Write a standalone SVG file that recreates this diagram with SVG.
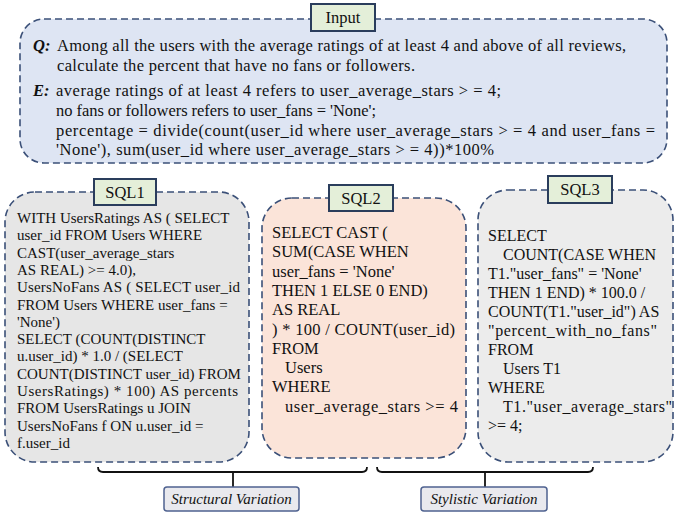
<svg xmlns="http://www.w3.org/2000/svg" width="675" height="514" viewBox="0 0 675 514">
<style>
.box{stroke:#3b5078;stroke-width:1.6;stroke-dasharray:7 4}
.tag{fill:#e4efd9;stroke:#2a3d5c;stroke-width:2}
.t{font-family:'Liberation Serif','DejaVu Serif',serif;fill:#111}
.in{font-size:16.5px}
.s1{font-size:15px}
.s2{font-size:16.5px}
.s3{font-size:16px}
.lab{font-size:16.5px;text-anchor:middle}
.var{fill:#e9e9ee;stroke:#4f6290;stroke-width:1.5}
.vt{font-size:15px;font-style:italic;text-anchor:middle}
.br{fill:none;stroke:#111;stroke-width:1.8}
</style>
<rect width="675" height="514" fill="#ffffff"/>

<g id="input">
<rect class="box" x="20" y="19" width="647" height="144" rx="24" fill="#dee5f3"/>
<rect class="tag" x="311" y="4" width="64" height="27"/>
<text class="t lab" x="343" y="23" font-size="17">Input</text>
<text class="t in" x="33" y="51" font-weight="bold" font-style="italic">Q:</text>
<text class="t in" x="57" y="51" textLength="569">Among all the users with the average ratings of at least 4 and above of all reviews,</text>
<text class="t in" x="57" y="71" textLength="358">calculate the percent that have no fans or followers.</text>
<text class="t in" x="33" y="96" font-weight="bold" font-style="italic">E:</text>
<text class="t in" x="56" y="96" textLength="445">average ratings of at least 4 refers to user_average_stars &gt; = 4;</text>
<text class="t in" x="56" y="116" textLength="320">no fans or followers refers to user_fans = 'None';</text>
<text class="t in" x="56" y="136" textLength="599">percentage = divide(count(user_id where user_average_stars &gt; = 4 and user_fans =</text>
<text class="t in" x="56" y="155" textLength="438">'None'), sum(user_id where user_average_stars &gt; = 4))*100%</text>
</g>

<g id="sql1">
<rect class="box" x="5" y="192" width="244" height="270" rx="30" fill="#e6e6e6"/>
<rect class="tag" x="94" y="179" width="62" height="26"/>
<text class="t lab" x="125" y="198">SQL1</text>
<text class="t s1" x="17" y="223">WITH UsersRatings AS ( SELECT</text>
<text class="t s1" x="17" y="240.3">user_id FROM Users WHERE</text>
<text class="t s1" x="17" y="257.6">CAST(user_average_stars</text>
<text class="t s1" x="17" y="274.9">AS REAL) &gt;= 4.0),</text>
<text class="t s1" x="17" y="292.2" textLength="223">UsersNoFans AS ( SELECT user_id</text>
<text class="t s1" x="17" y="309.5">FROM Users WHERE user_fans =</text>
<text class="t s1" x="17" y="326.8">'None')</text>
<text class="t s1" x="17" y="344.1">SELECT (COUNT(DISTINCT</text>
<text class="t s1" x="17" y="361.4">u.user_id) * 1.0 / (SELECT</text>
<text class="t s1" x="17" y="378.7">COUNT(DISTINCT user_id) FROM</text>
<text class="t s1" x="17" y="396" textLength="221">UsersRatings) * 100) AS percents</text>
<text class="t s1" x="17" y="413.3">FROM UsersRatings u JOIN</text>
<text class="t s1" x="17" y="430.6">UsersNoFans f ON u.user_id =</text>
<text class="t s1" x="17" y="447.9">f.user_id</text>
</g>

<g id="sql2">
<rect class="box" x="262" y="198" width="204" height="260" rx="30" fill="#fbe4d9"/>
<rect class="tag" x="329" y="185" width="64" height="26"/>
<text class="t lab" x="361" y="204">SQL2</text>
<text class="t s2" x="272" y="238">SELECT CAST (</text>
<text class="t s2" x="272" y="257.3">SUM(CASE WHEN</text>
<text class="t s2" x="272" y="276.6">user_fans = 'None'</text>
<text class="t s2" x="272" y="295.9">THEN 1 ELSE 0 END)</text>
<text class="t s2" x="272" y="315.2">AS REAL</text>
<text class="t s2" x="272" y="334.5" textLength="183">) * 100 / COUNT(user_id)</text>
<text class="t s2" x="272" y="353.8">FROM</text>
<text class="t s2" x="285" y="373.1">Users</text>
<text class="t s2" x="272" y="392.4">WHERE</text>
<text class="t s2" x="285" y="411.7" textLength="173">user_average_stars &gt;= 4</text>
</g>

<g id="sql3">
<rect class="box" x="478" y="190" width="195" height="272" rx="30" fill="#ececec"/>
<rect class="tag" x="548" y="176" width="64" height="27"/>
<text class="t lab" x="580" y="195">SQL3</text>
<text class="t s3" x="488" y="241">SELECT</text>
<text class="t s3" x="503" y="260">COUNT(CASE WHEN</text>
<text class="t s3" x="488" y="279">T1."user_fans" = 'None'</text>
<text class="t s3" x="488" y="298">THEN 1 END) * 100.0 /</text>
<text class="t s3" x="488" y="317">COUNT(T1."user_id") AS</text>
<text class="t s3" x="488" y="336" textLength="169">"percent_with_no_fans"</text>
<text class="t s3" x="488" y="355">FROM</text>
<text class="t s3" x="503" y="374">Users T1</text>
<text class="t s3" x="488" y="393">WHERE</text>
<text class="t s3" x="503" y="412" textLength="169">T1."user_average_stars"</text>
<text class="t s3" x="488" y="431">&gt;= 4;</text>
</g>

<g id="connectors">
<path class="br" d="M98,467 Q98,472 103,472 L362,472 Q367,472 367,467"/>
<path class="br" d="M233,472 L233,487"/>
<path class="br" d="M377,467 Q377,472 382,472 L588,472 Q593,472 593,467"/>
<path class="br" d="M485,472 L485,487"/>
</g>

<g id="structural">
<rect class="var" x="164" y="487" width="135" height="24" rx="3"/>
<text class="t vt" x="231.5" y="504">Structural Variation</text>
</g>

<g id="stylistic">
<rect class="var" x="421" y="487" width="126" height="24" rx="3"/>
<text class="t vt" x="484" y="504">Stylistic Variation</text>
</g>
</svg>
